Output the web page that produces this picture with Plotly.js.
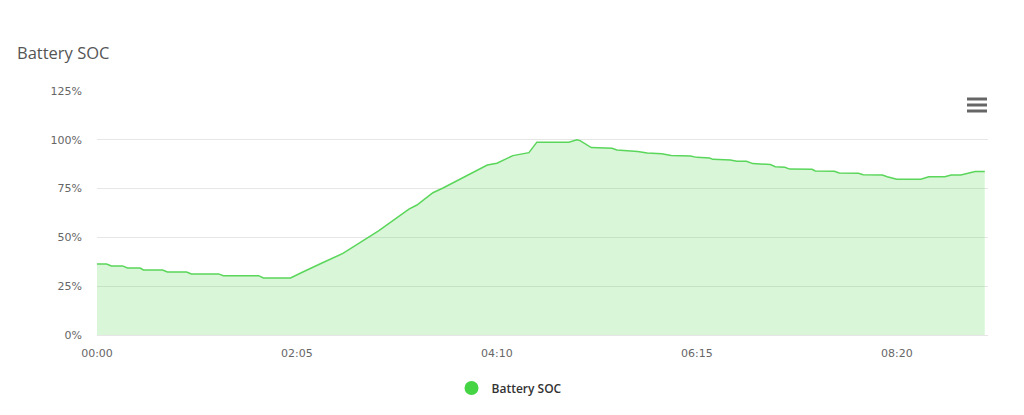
<!DOCTYPE html>
<html>
<head>
<meta charset="utf-8">
<script src="https://cdn.plot.ly/plotly-3.0.1.min.js"></script>
<style>
  html, body { margin: 0; padding: 0; background: #ffffff; }
  #chart { width: 1024px; height: 415px; }
</style>
</head>
<body>
<div id="chart"></div>
<script>
// Time of day (HH:MM) and Battery SOC (%)
const times = [
  "00:00","00:06","00:09","00:16","00:19","00:27","00:29","00:41","00:44","00:56",
  "00:59","01:16","01:19","01:41","01:44","02:01","02:09","02:14","02:21","02:34",
  "02:50","02:56","03:15","03:20","03:30","03:36","04:04","04:10","04:20","04:24",
  "04:30","04:35","04:55","05:00","05:02","05:09","05:22","05:25","05:34","05:38",
  "05:44","05:53","05:59","06:11","06:15","06:23","06:25","06:36","06:40","06:46",
  "06:50","07:01","07:04","07:10","07:13","07:27","07:29","07:41","07:44","07:56",
  "07:59","08:11","08:14","08:20","08:35","08:40","08:50","08:54","09:00","09:09",
  "09:15"
];
const socValues = [
  36.4, 36.4, 35.4, 35.4, 34.3, 34.3, 33.3, 33.3, 32.3, 32.3,
  31.3, 31.3, 30.4, 30.4, 29.2, 29.2, 32.4, 34.2, 37.0, 41.9,
  50.4, 53.4, 64.5, 66.6, 72.9, 75.2, 87.1, 88.0, 91.9, 92.6,
  93.4, 98.8, 98.8, 100.0, 99.6, 96.0, 95.7, 94.8, 94.3, 94.0,
  93.2, 92.9, 92.0, 91.7, 91.0, 90.7, 90.0, 89.7, 89.0, 89.0,
  87.8, 87.3, 86.2, 85.9, 85.0, 84.9, 84.0, 83.9, 83.0, 82.8,
  82.1, 82.0, 81.1, 79.8, 79.8, 81.1, 81.1, 82.0, 82.0, 83.7,
  83.7
];
const tickTimes = ["00:00","02:05","04:10","06:15","08:20"];
const yTicks = [0, 25, 50, 75, 100, 125];
const yTickLabels = ["0%","25%","50%","75%","100%","125%"];
const seriesName = "Battery SOC";
const chartTitle = "Battery SOC";

const day = "2024-01-01 ";
const xs = times.map(t => day + t);

const lineColor = "#5ad65a";
const traces = [
  {
    x: xs, y: socValues, type: "scatter", mode: "lines",
    name: seriesName, showlegend: false,
    line: { color: lineColor, width: 1.5 },
    fill: "tozeroy", fillcolor: "rgba(80, 215, 80, 0.22)",
    hoverinfo: "x+y"
  },
  {
    x: [null], y: [null], type: "scatter", mode: "markers",
    name: seriesName, showlegend: true,
    marker: { color: "#44d444", size: 14, symbol: "circle" }
  }
];

const barX0 = (967 - 97) / 891, barX1 = (987 - 97) / 891;
function barShape(yTop, yBot) {
  return { type: "rect", xref: "paper", yref: "paper",
    x0: barX0, x1: barX1, y0: (335 - yBot) / 244, y1: (335 - yTop) / 244,
    fillcolor: "#666666", line: { width: 0 } };
}

const layout = {
  width: 1024, height: 415,
  margin: { l: 97, r: 36, t: 91, b: 80 },
  paper_bgcolor: "#ffffff", plot_bgcolor: "#ffffff",
  title: {
    text: chartTitle,
    font: { family: "Open Sans", size: 16.5, color: "#555555" },
    xref: "container", yref: "container",
    x: 17 / 1024, xanchor: "left",
    y: 1 - 53 / 415, yanchor: "middle"
  },
  xaxis: {
    type: "date",
    range: [day + "00:00", day + "09:17"],
    tickvals: tickTimes.map(t => day + t),
    ticktext: tickTimes,
    showgrid: false, zeroline: false,
    showline: true, linecolor: "#e6e6e6", linewidth: 1,
    ticks: "", ticklabelstandoff: 8,
    tickfont: { family: "DejaVu Sans", size: 11, color: "#666666" },
    fixedrange: true
  },
  yaxis: {
    range: [0, 125],
    tickvals: yTicks, ticktext: yTickLabels,
    showgrid: true, gridcolor: "#e6e6e6", gridwidth: 1,
    zeroline: false, showline: false,
    ticks: "", ticklabelstandoff: 14,
    tickfont: { family: "DejaVu Sans", size: 11, color: "#666666" },
    fixedrange: true
  },
  legend: {
    orientation: "h",
    x: 0.463, xanchor: "center",
    y: (335 - 388) / 244, yanchor: "middle",
    font: { family: "Open Sans", size: 12, color: "#333333", weight: 600 },
    itemsizing: "trace"
  },
  shapes: [ barShape(97.5, 100.5), barShape(103.5, 106.5), barShape(109.5, 112.5) ],
  showlegend: true
};

Plotly.newPlot("chart", traces, layout, { displayModeBar: false, staticPlot: false });
</script>
</body>
</html>
